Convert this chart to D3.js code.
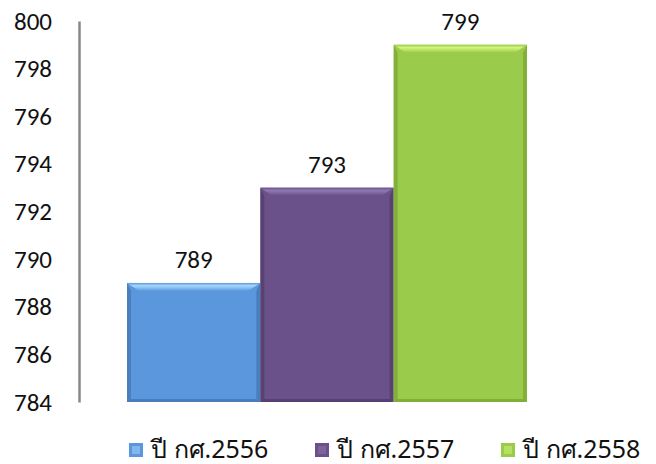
<!DOCTYPE html>
<html><head><meta charset="utf-8">
<script src="https://cdn.jsdelivr.net/npm/d3@7"></script>
<style>body{margin:0;background:#fff}svg{display:block}</style>
</head><body>
<svg id="c" width="656" height="464"></svg>
<script>
const seriesNames = ["ปี กศ.2556", "ปี กศ.2557", "ปี กศ.2558"];
const values = [789, 793, 799];
const tickValues = [784, 786, 788, 790, 792, 794, 796, 798, 800];
const colors = ["#5b97dc", "#6a5189", "#9bcb4a"];
const lights = ["#a6d8ff", "#8f78b0", "#d2f57e"];
const darks = ["#3c6aa3", "#4a3563", "#6f9a2e"];

const svg = d3.select("#c");
const font = "Calibri, Carlito, 'Open Sans', 'Noto Sans', 'DejaVu Sans', sans-serif";
const y = d3.scaleLinear().domain([784, 800]).range([402, 21]);
const x = d3.scaleBand().domain(seriesNames).range([127, 527]).padding(0);

const defs = svg.append("defs");
seriesNames.forEach((s, i) => {
  const gt = defs.append("linearGradient").attr("id", "top" + i).attr("x1", 0).attr("y1", 0).attr("x2", 0).attr("y2", 1);
  gt.append("stop").attr("offset", 0).attr("stop-color", colors[i]);
  gt.append("stop").attr("offset", 0.35).attr("stop-color", lights[i]);
  gt.append("stop").attr("offset", 1).attr("stop-color", colors[i]);
});

// y axis
const ax = svg.append("g").attr("transform", "translate(79,0)")
  .call(d3.axisLeft(y).tickValues(tickValues).tickSize(0).tickPadding(27).tickFormat(d3.format("d")));
ax.select(".domain").attr("stroke", "#888").attr("stroke-width", 2.5);
ax.selectAll("text").attr("font-family", font).attr("font-size", 25).attr("fill", "#111");

// bars
const b = 8;
const g = svg.append("g");
seriesNames.forEach((s, i) => {
  const x0 = x(s), w = x.bandwidth(), y0 = y(values[i]), y1 = y(784);
  const bg = g.append("g");
  bg.append("rect").attr("x", x0).attr("y", y0).attr("width", w).attr("height", y1 - y0).attr("fill", colors[i]);
  // side shading
  bg.append("polygon").attr("points", [[x0, y0], [x0 + 4, y0 + b], [x0 + 4, y1 - 3], [x0, y1]].join(" "))
    .attr("fill", darks[i]).attr("opacity", 0.55);
  bg.append("polygon").attr("points", [[x0 + w, y0], [x0 + w - 4, y0 + b], [x0 + w - 4, y1 - 3], [x0 + w, y1]].join(" "))
    .attr("fill", darks[i]).attr("opacity", 0.55);
  bg.append("polygon").attr("points", [[x0, y1], [x0 + 4, y1 - 3], [x0 + w - 4, y1 - 3], [x0 + w, y1]].join(" "))
    .attr("fill", darks[i]).attr("opacity", 0.6);
  // top bevel
  bg.append("polygon").attr("points", [[x0, y0], [x0 + w, y0], [x0 + w - 12, y0 + b], [x0 + 12, y0 + b]].join(" "))
    .attr("fill", "url(#top" + i + ")");
  g.append("text").attr("x", x0 + w / 2).attr("y", y0 - 15).attr("text-anchor", "middle")
    .attr("font-family", font).attr("font-size", 25).attr("fill", "#111").text(values[i]);
});

// legend
const legX = [129, 315, 501];
const lg = svg.append("g");
seriesNames.forEach((s, i) => {
  const gx = legX[i];
  lg.append("rect").attr("x", gx).attr("y", 443).attr("width", 14).attr("height", 14).attr("fill", colors[i]);
  lg.append("rect").attr("x", gx + 3).attr("y", 446).attr("width", 8).attr("height", 8).attr("fill", lights[i]).attr("opacity", 0.5);
  lg.append("text").attr("x", gx + 22).attr("y", 458).attr("font-family", "Tahoma, 'Noto Sans', 'DejaVu Sans', sans-serif")
    .attr("font-size", 25).attr("fill", "#111").text(s);
});
</script>
</body></html>
